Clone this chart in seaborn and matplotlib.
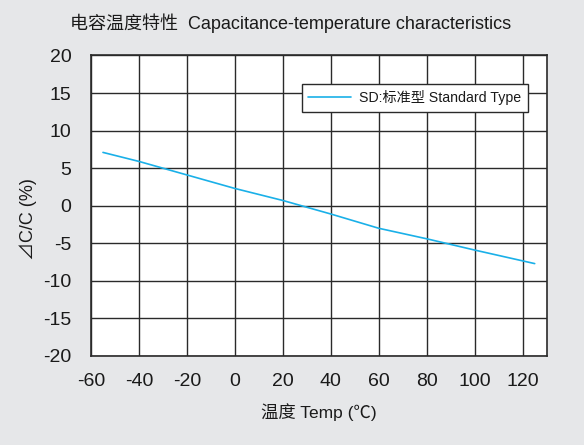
import matplotlib
matplotlib.use("Agg")
import matplotlib.pyplot as plt
import seaborn as sns
import pandas as pd

temps = [-55, -40, -20, 0, 20, 40, 60, 80, 100, 125]
cap_change = [7.1, 5.9, 4.1, 2.3, 0.7, -1.1, -3.0, -4.4, -5.9, -7.7]
series_name = "SD:标准型 Standard Type"
x_ticks = [-60, -40, -20, 0, 20, 40, 60, 80, 100, 120]
y_ticks = [-20, -15, -10, -5, 0, 5, 10, 15, 20]

sns.set_theme(style="white")
plt.rcParams['font.family'] = ['Liberation Sans', 'Noto Sans CJK SC', 'DejaVu Sans']
plt.rcParams['axes.unicode_minus'] = False

bg = "#e6e7e9"
fig = plt.figure(figsize=(5.84, 4.45), dpi=100, facecolor=bg)
ax = fig.add_axes([0.1558, 0.2, 0.7803, 0.6753])
ax.set_facecolor("white")

df = pd.DataFrame({"Temp": temps, "dC": cap_change, "series": series_name})
sns.lineplot(data=df, x="Temp", y="dC", hue="series", palette=["#1ab0e8"], linewidth=1.2, ax=ax)

ax.set_xlim(-60, 130)
ax.set_ylim(-20, 20)
ax.set_xticks(x_ticks)
ax.set_yticks(y_ticks)
ax.grid(True, color="#2a2a2a", linewidth=1.0)
ax.set_axisbelow(True)
for s in ax.spines.values():
    s.set_color("#2a2a2a")
    s.set_linewidth(1.2)
ax.tick_params(axis="x", length=0, labelsize=14, colors="#1a1a1a", pad=12)
ax.tick_params(axis="y", length=0, labelsize=14, colors="#1a1a1a", pad=14)

ax.set_xlabel("温度 Temp (℃)", fontsize=12.5, color="#1a1a1a", labelpad=10)
ax.set_ylabel("⊿C/C (%)", fontsize=13, color="#1a1a1a")
ax.yaxis.set_label_coords(-0.118, 0.455)
fig.text(0.497, 0.948, "电容温度特性  Capacitance-temperature characteristics",
         ha="center", va="center", fontsize=13, color="#1a1a1a")

leg = ax.legend(loc="upper right", bbox_to_anchor=(0.959, 0.905), frameon=True,
                fancybox=False, fontsize=10.2, handlelength=3.0, borderpad=0.45,
                handletextpad=0.6, borderaxespad=0)
leg.get_frame().set_edgecolor("#2a2a2a")
leg.get_frame().set_linewidth(1.0)
leg.get_frame().set_alpha(1)
for t in leg.get_texts():
    t.set_color("#1a1a1a")

fig.savefig("out.png", dpi=100, facecolor=bg)
